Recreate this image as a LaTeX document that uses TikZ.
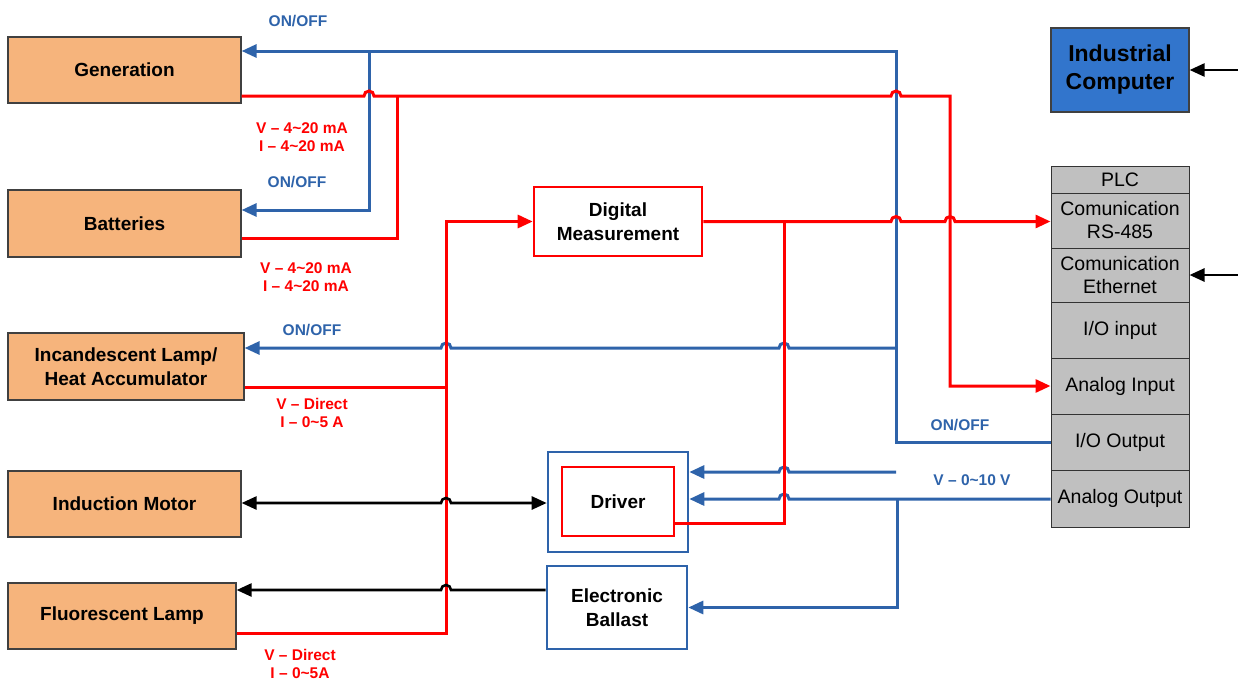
\documentclass[tikz,border=0pt]{standalone}
\usepackage{fontspec}
\setmainfont{Liberation Sans}
\usetikzlibrary{arrows.meta}

\definecolor{ctrlblue}{RGB}{46,99,170}
\definecolor{sigred}{RGB}{255,0,0}
\definecolor{loadfill}{RGB}{246,180,124}
\definecolor{plcgray}{RGB}{192,192,192}
\definecolor{pcblue}{RGB}{50,117,204}

\tikzset{
  load/.style={draw=black!75,line width=1.2pt,fill=loadfill,inner sep=0pt,
    align=center,font=\fontsize{19}{24}\selectfont\bfseries},
  unit/.style={line width=2.6pt,fill=white,inner sep=0pt,align=center,
    font=\fontsize{19}{24}\selectfont\bfseries},
  cell/.style={draw=black!80,line width=1pt,fill=plcgray,inner sep=0pt,
    minimum width=138pt,align=center,font=\fontsize{19.5}{23}\selectfont},
  ctrl/.style={draw=ctrlblue,line width=3pt},
  sig/.style={draw=sigred,line width=3pt},
  pow/.style={draw=black,line width=2.6pt},
  tip/.style={-{Triangle[length=15pt,width=13pt]}},
  ctrllabel/.style={text=ctrlblue,font=\fontsize{15.5}{18}\selectfont\bfseries},
  siglabel/.style={text=sigred,align=center,font=\fontsize{15.5}{18}\selectfont\bfseries}
}

\begin{document}
\begin{tikzpicture}[x=1pt,y=-1pt]
  \useasboundingbox (0,0) rectangle (1238,680);

  % Loads on the left.
  \node[load,minimum width=233pt,minimum height=66pt] (gen) at (124.5,70) {Generation};
  \node[load,minimum width=233pt,minimum height=67pt] (bat) at (124.5,223.5) {Batteries};
  \node[load,minimum width=236pt,minimum height=67pt] (inc) at (126,366.5) {Incandescent Lamp/\\Heat Accumulator};
  \node[load,minimum width=233pt,minimum height=66pt] (ind) at (124.5,504) {Induction Motor};
  \node[load,minimum width=228pt,minimum height=66pt] (flu) at (122,616) {Fluorescent Lamp};

  % Units in the middle.
  \node[unit,draw=sigred,minimum width=168pt,minimum height=69pt] (dm) at (618,221.5) {Digital\\Measurement};
  \node[unit,draw=ctrlblue,minimum width=140pt,minimum height=100pt] (drvout) at (618,502) {};
  \node[unit,draw=sigred,minimum width=112pt,minimum height=69pt] (drv) at (618,501.5) {Driver};
  \node[unit,draw=ctrlblue,minimum width=140pt,minimum height=83pt] (bal) at (617,607.5) {Electronic\\Ballast};

  % Computer and PLC on the right.
  \node[draw=black!75,line width=1.2pt,fill=pcblue,inner sep=0pt,minimum width=138pt,minimum height=84pt,
    align=center,font=\fontsize{23}{28}\selectfont\bfseries] (pc) at (1120,70) {Industrial\\Computer};
  \node[cell,minimum height=27pt] (plc) at (1120,179.5) {PLC};
  \node[cell,minimum height=55pt] (rs) at (1120,220.5) {Comunication\\RS-485};
  \node[cell,minimum height=54pt] (eth) at (1120,275) {Comunication\\Ethernet};
  \node[cell,minimum height=56pt] (ioin) at (1120,330) {I/O input};
  \node[cell,minimum height=56pt] (ain) at (1120,386) {Analog Input};
  \node[cell,minimum height=56pt] (ioout) at (1120,442) {I/O Output};
  \node[cell,minimum height=57pt] (aout) at (1120,498.5) {Analog Output};

  \coordinate (pcin) at (1238,70);
  \coordinate (ethin) at (1238,275);
  \draw[pow,tip] (pcin) -- (pc.east);
  \draw[pow,tip] (ethin) -- (eth.east);

  % ON/OFF lines from the I/O output.
  \draw[ctrl,tip] (ioout.west) -- (896,442) -- (896,51) -- ([yshift=19pt]gen.east);
  \draw[ctrl,tip] (369,51) -- (369,210) -- ([yshift=13.5pt]bat.east);
  \draw[ctrl,tip] (896,348) -- (789,348) arc[start angle=0,end angle=180,radius=5pt]
    -- (451,348) arc[start angle=0,end angle=180,radius=5pt] -- ([yshift=18.5pt]inc.east);
  \draw[ctrl,tip] (896,472) -- (789,472) arc[start angle=0,end angle=180,radius=5pt]
    -- ([yshift=30pt]drvout.east);

  % 0-10 V from the analog output.
  \draw[ctrl,tip] ([yshift=-0.5pt]aout.west) -- (897,499) -- (789,499) arc[start angle=0,end angle=180,radius=5pt]
    -- ([yshift=3pt]drvout.east);
  \draw[ctrl,tip] (897,499) -- (897,607.5) -- (bal.east);

  % Measured signals.
  \draw[sig,tip] ([yshift=-26pt]gen.east) -- (364,96) arc[start angle=180,end angle=0,radius=5pt]
    -- (891,96) arc[start angle=180,end angle=0,radius=5pt] -- (950,96) -- (950,386) -- (ain.west);
  \draw[sig] ([yshift=-14.5pt]bat.east) -- (397,238) -- (397,96);
  \draw[sig,tip] (dm.east) -- (891,221.5) arc[start angle=180,end angle=0,radius=5pt]
    -- (945,221.5) arc[start angle=180,end angle=0,radius=5pt] -- ([yshift=-1pt]rs.west);
  \draw[sig] (784,221.5) -- (784,523) -- ([yshift=-21.5pt]drv.east);
  \draw[sig] ([yshift=-20.5pt]inc.east) -- (446,387);
  \draw[sig,tip] ([yshift=-17pt]flu.east) -- (446,633) -- (446,221.5) -- (dm.west);

  % Power lines.
  \draw[pow,{Triangle[length=15pt,width=13pt]}-{Triangle[length=15pt,width=13pt]}] ([yshift=1pt]ind.east)
    -- (441,503) arc[start angle=180,end angle=0,radius=5pt] -- ([yshift=-1pt]drvout.west);
  \draw[pow,tip] ([yshift=17.5pt]bal.west) -- (451,590) arc[start angle=0,end angle=180,radius=5pt]
    -- ([yshift=26pt]flu.east);

  % Labels on the lines.
  \node[ctrllabel] (l1) at (298,21) {ON/OFF};
  \node[siglabel] (l2) at (302,137) {V \textendash{} 4\textasciitilde 20 mA\\I \textendash{} 4\textasciitilde 20 mA};
  \node[ctrllabel] (l3) at (297,182) {ON/OFF};
  \node[siglabel] (l4) at (306,277) {V \textendash{} 4\textasciitilde 20 mA\\I \textendash{} 4\textasciitilde 20 mA};
  \node[ctrllabel] (l5) at (312,330) {ON/OFF};
  \node[siglabel] (l6) at (312,413) {V \textendash{} Direct\\I \textendash{} 0\textasciitilde 5 A};
  \node[siglabel] (l7) at (300,664) {V \textendash{} Direct\\I \textendash{} 0\textasciitilde 5A};
  \node[ctrllabel] (l8) at (960,425) {ON/OFF};
  \node[ctrllabel] (l9) at (972,480) {V \textendash{} 0\textasciitilde 10 V};
\end{tikzpicture}
\end{document}
